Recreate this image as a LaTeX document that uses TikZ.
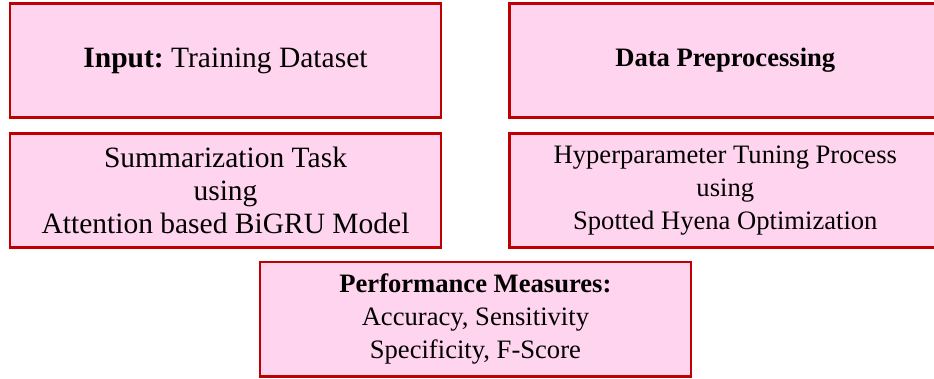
\documentclass[tikz,border=0pt]{standalone}
\usepackage{fontspec}
\setmainfont{Liberation Serif}
\usepackage{tikz}
\usetikzlibrary{positioning, calc}
\definecolor{boxred}{RGB}{192,0,0}
\definecolor{boxpink}{RGB}{255,212,238}
\frenchspacing
\tikzset{
  stage/.style={
    rectangle, draw=boxred, fill=boxpink, line width=2.8pt,
    minimum width=431pt, minimum height=114pt, inner sep=0pt,
    text centered, align=center
  },
  bigtext/.style={font=\fontsize{29.5}{33}\selectfont},
  smalltext/.style={font=\fontsize{26.6}{33}\selectfont},
}

\begin{document}
\begin{tikzpicture}
  \useasboundingbox (0,0) rectangle (934pt,-379pt);

  \node (input)   [stage, bigtext] at (225.5pt,-60.5pt) {\textbf{Input:} Training Dataset};
  \node (preproc) [stage, smalltext, right=66pt of input] {\textbf{Data Preprocessing}};
  \node (summ)    [stage, bigtext, below=13pt of input]
    {Summarization Task\\using\\Attention based BiGRU Model};
  \node (hyper)   [stage, smalltext, below=13pt of preproc]
    {Hyperparameter Tuning Process\\using\\Spotted Hyena Optimization};
  \node (perf)    [stage, smalltext, below=12pt of $(summ.south)!.5!(hyper.south)$]
    {\textbf{Performance Measures:}\\Accuracy, Sensitivity\\Specificity, F-Score};
\end{tikzpicture}
\end{document}
